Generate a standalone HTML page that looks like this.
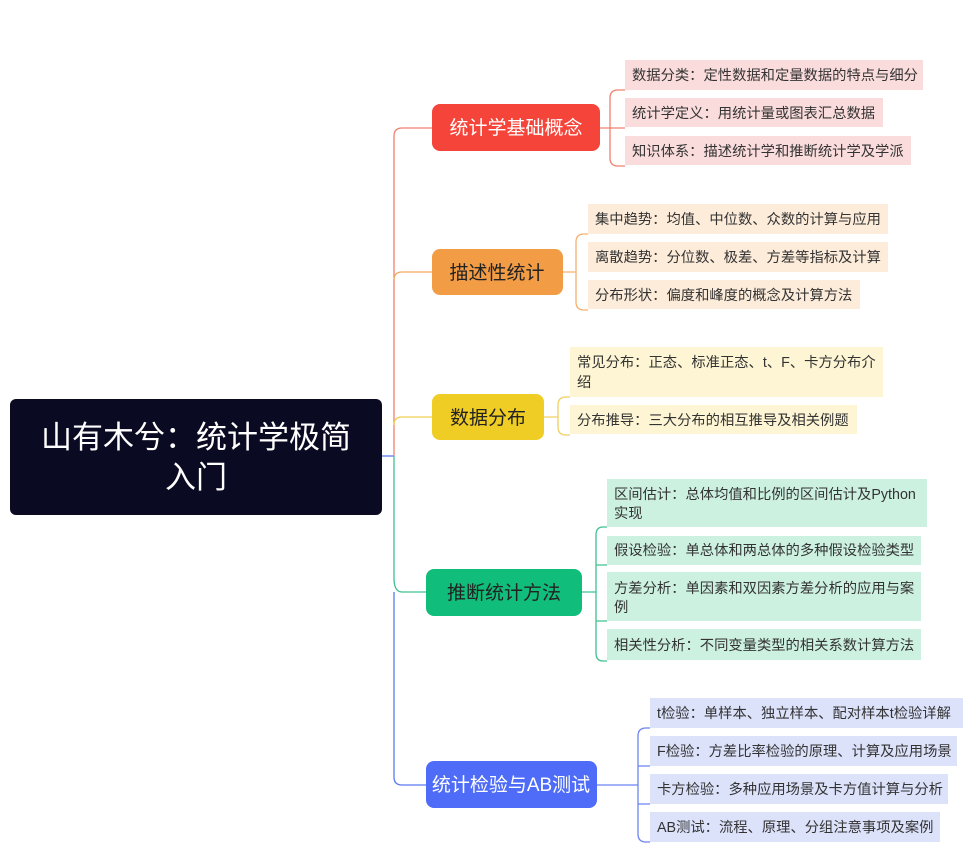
<!DOCTYPE html>
<html><head><meta charset="utf-8"><style>
html,body{margin:0;padding:0;background:#fff;}
svg{display:block;font-family:"Liberation Sans","Noto Sans CJK SC",sans-serif;}
.l{font-size:14.3px;}
.b{font-size:19px;}
</style></head><body>
<svg width="970" height="852" viewBox="0 0 970 852" xmlns="http://www.w3.org/2000/svg">
<g fill="none" stroke-width="1.3">
<path d="M382 456 H394" stroke="#5b7bf0"/>
<path d="M432 128 H402 Q394 128 394 136 V456" stroke="#f08070"/>
<path d="M432 272 H402 Q394 272 394 280" stroke="#f5a860"/>
<path d="M432 417 H402 Q394 417 394 425" stroke="#f0cd50"/>
<path d="M394 456 V578 Q394 592 402 592 H426" stroke="#40c090"/>
<path d="M394 592 V777 Q394 785 402 785 H426" stroke="#5b7bf0"/>
<path d="M600 128 H610 M625 90 H618 Q610 90 610 98 V158 Q610 166 618 166 H625 M610 128 H625" stroke="#f08070"/>
<path d="M563 272 H576 M588 234 H584 Q576 234 576 242 V302 Q576 310 584 310 H588" stroke="#f5b070"/>
<path d="M544 417 H558 M570 397 H566 Q558 397 558 405 V427 Q558 435 566 435 H570" stroke="#f0d060"/>
<path d="M582 592 H596 M607 527 H603 Q596 527 596 535 V653 Q596 661 603 661 H607 M596 565 H607 M596 621 H607" stroke="#40c090"/>
<path d="M597 785 H638 M650 728 H646 Q638 728 638 736 V834 Q638 842 646 842 H650 M638 766 H650 M638 804 H650" stroke="#6b85f2"/>
</g>
<rect x="10" y="399" width="372" height="116" rx="6" fill="#0b0a23"/>
<text x="196" y="448" fill="#fff" font-size="31" text-anchor="middle">山有木兮：统计学极简</text>
<text x="196" y="488" fill="#fff" font-size="31" text-anchor="middle">入门</text>
<rect x="432" y="104" width="168" height="47" rx="8" fill="#f5453a"/>
<text class="b" x="516" y="134" fill="#fff" text-anchor="middle">统计学基础概念</text>
<rect x="432" y="249" width="131" height="46" rx="8" fill="#f29c45"/>
<text class="b" x="497" y="279" fill="#222" text-anchor="middle">描述性统计</text>
<rect x="432" y="394" width="112" height="46" rx="8" fill="#f0cd24"/>
<text class="b" x="488" y="424" fill="#222" text-anchor="middle">数据分布</text>
<rect x="426" y="569" width="156" height="47" rx="8" fill="#10bd7a"/>
<text class="b" x="504" y="599" fill="#222" text-anchor="middle">推断统计方法</text>
<rect x="426" y="761" width="171" height="47" rx="8" fill="#4e6cf7"/>
<text class="b" x="511" y="791" fill="#fff" text-anchor="middle">统计检验与AB测试</text>
<g fill="#fbdcdc"><rect x="625" y="60" width="298" height="30"/><rect x="625" y="98" width="258" height="29"/><rect x="625" y="136" width="286" height="29"/></g>
<g class="l" fill="#333">
<text x="632" y="80">数据分类：定性数据和定量数据的特点与细分</text>
<text x="632" y="118">统计学定义：用统计量或图表汇总数据</text>
<text x="632" y="156">知识体系：描述统计学和推断统计学及学派</text></g>
<g fill="#fdecda"><rect x="588" y="204" width="300" height="30"/><rect x="588" y="242" width="300" height="30"/><rect x="588" y="280" width="272" height="29"/></g>
<g class="l" fill="#333">
<text x="595" y="224">集中趋势：均值、中位数、众数的计算与应用</text>
<text x="595" y="262">离散趋势：分位数、极差、方差等指标及计算</text>
<text x="595" y="300">分布形状：偏度和峰度的概念及计算方法</text></g>
<g fill="#fdf5d3"><rect x="570" y="347" width="313" height="50"/><rect x="570" y="405" width="287" height="29"/></g>
<g class="l" fill="#333">
<text x="577" y="367">常见分布：正态、标准正态、t、F、卡方分布介</text>
<text x="577" y="387">绍</text>
<text x="577" y="425">分布推导：三大分布的相互推导及相关例题</text></g>
<g fill="#cdf1e1"><rect x="607" y="479" width="320" height="48"/><rect x="607" y="536" width="314" height="29"/><rect x="607" y="572" width="314" height="49"/><rect x="607" y="629" width="314" height="31"/></g>
<g class="l" fill="#333">
<text x="614" y="499">区间估计：总体均值和比例的区间估计及Python</text>
<text x="614" y="518">实现</text>
<text x="614" y="555">假设检验：单总体和两总体的多种假设检验类型</text>
<text x="614" y="593">方差分析：单因素和双因素方差分析的应用与案</text>
<text x="614" y="612">例</text>
<text x="614" y="650">相关性分析：不同变量类型的相关系数计算方法</text></g>
<g fill="#dde2fb"><rect x="650" y="698" width="313" height="30"/><rect x="650" y="736" width="307" height="30"/><rect x="650" y="774" width="298" height="30"/><rect x="650" y="812" width="290" height="30"/></g>
<g class="l" fill="#333">
<text x="657" y="718">t检验：单样本、独立样本、配对样本t检验详解</text>
<text x="657" y="756">F检验：方差比率检验的原理、计算及应用场景</text>
<text x="657" y="794">卡方检验：多种应用场景及卡方值计算与分析</text>
<text x="657" y="832">AB测试：流程、原理、分组注意事项及案例</text></g>
</svg>
</body></html>
